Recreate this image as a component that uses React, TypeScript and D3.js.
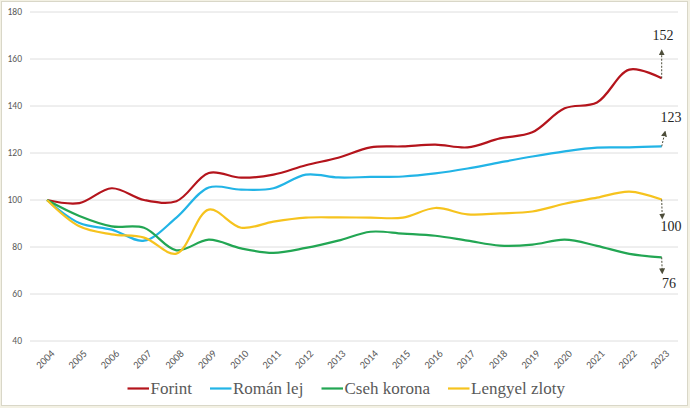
import React from "react";
import * as d3 from "d3";

const years = [2004,2005,2006,2007,2008,2009,2010,2011,2012,2013,2014,2015,2016,2017,2018,2019,2020,2021,2022,2023];
const forint = [100,98.7,105,100,99.5,111.5,109.5,110.8,114.8,118,122.4,122.8,123.6,122.4,126.2,128.8,139,141.5,155.5,151.8];
const romanLej = [100,90.2,87.4,82.7,92.5,105.3,104.4,105,110.8,109.6,109.8,110,111.3,113.4,116,118.5,120.7,122.3,122.4,122.8];
const csehKorona = [100,93.2,88.8,88.2,78.6,83.1,79.4,77.5,79.6,82.7,86.5,85.7,84.8,82.7,80.6,81,83.1,80.5,77.1,75.6];
const lengyelZloty = [100,88.8,85.4,84,77.2,95.9,88.2,90.8,92.5,92.6,92.5,92.5,96.6,93.9,94.3,95.1,98.4,101,103.6,100.2];
const yTicks = [40,60,80,100,120,140,160,180];

const seriesNames = ["Forint","Román lej","Cseh korona","Lengyel zloty"];
const seriesValues = [forint, romanLej, csehKorona, lengyelZloty];
const seriesColors = ["#b4141c","#22b4e6","#22a653","#f6c31e"];
const endLabels = ["152","123","100","76"];

export default function App() {
  const W = 690, H = 408;
  const x = d3.scaleLinear().domain([2004, 2023]).range([47, 661.7]);
  const y = d3.scaleLinear().domain([40, 180]).range([341, 12]);
  const line = d3.line<number>()
    .x((_, i) => x(years[i]))
    .y((d) => y(d))
    .curve(d3.curveCatmullRom.alpha(0.5));

  const legendX = [127.5, 210, 321.5, 448];
  const arrowColor = "#4d4d3a";
  const serif = "Liberation Serif, Times New Roman, serif";
  const sans = "Carlito, Liberation Sans, Arial, sans-serif";

  const last = (arr: number[]) => arr[arr.length - 1];
  const ann = [
    { s: 0, dx: 0, dy: -26, lx: 663, ly: 40 },
    { s: 1, dx: 3, dy: -13, lx: 671, ly: 122 },
    { s: 3, dx: 0.5, dy: 17, lx: 671, ly: 231 },
    { s: 2, dx: 0.5, dy: 14, lx: 669, ly: 288 },
  ];

  return (
    <svg width={W} height={H} style={{ position: "absolute", left: 0, top: 0 }}>
      <defs>
        <marker id="ah" viewBox="0 0 10 10" refX="5" refY="5" markerWidth="6" markerHeight="6" orient="auto">
          <path d="M0,0 L10,5 L0,10 z" fill={arrowColor} />
        </marker>
      </defs>
      <rect x={0} y={0} width={W} height={H} fill="#f3f1e4" />
      <rect x={1.5} y={1.5} width={686} height={404} fill="#ffffff" stroke="#d9d7c8" strokeWidth={1} />
      {yTicks.map((t) => (
        <g key={t}>
          <line x1={30} x2={678} y1={y(t)} y2={y(t)} stroke="#dedede" strokeWidth={1} />
          <text x={22} y={y(t)} dy="0.35em" textAnchor="end" fontFamily={sans} fontSize={9.5} fill="#595959">{t}</text>
        </g>
      ))}
      {years.map((yr) => (
        <text key={yr} transform={`translate(${x(yr) + 3},${349}) rotate(-45)`} textAnchor="end" dy="0.7em"
          fontFamily={sans} fontSize={10.5} fill="#595959">{yr}</text>
      ))}
      {seriesValues.map((vals, i) => (
        <path key={i} d={line(vals) || ""} fill="none" stroke={seriesColors[i]} strokeWidth={2.2} strokeLinejoin="round" />
      ))}
      {ann.map((a, k) => {
        const v = last(seriesValues[a.s]);
        const px = x(2023), py = y(v);
        return (
          <g key={k}>
            <line x1={px} y1={py} x2={px + a.dx} y2={py + a.dy} stroke={arrowColor} strokeWidth={1} strokeDasharray="2,1.5" markerEnd="url(#ah)" />
            <text x={a.lx} y={a.ly} textAnchor="middle" fontFamily={serif} fontSize={14} fill="#262626">{endLabels[k]}</text>
          </g>
        );
      })}
      {seriesNames.map((n, i) => (
        <g key={n}>
          <line x1={legendX[i]} x2={legendX[i] + 21.5} y1={388.5} y2={388.5} stroke={seriesColors[i]} strokeWidth={2.2} />
          <text x={legendX[i] + 23} y={388.5} dy="0.33em" fontFamily={serif} fontSize={17} fill="#595959">{n}</text>
        </g>
      ))}
    </svg>
  );
}
